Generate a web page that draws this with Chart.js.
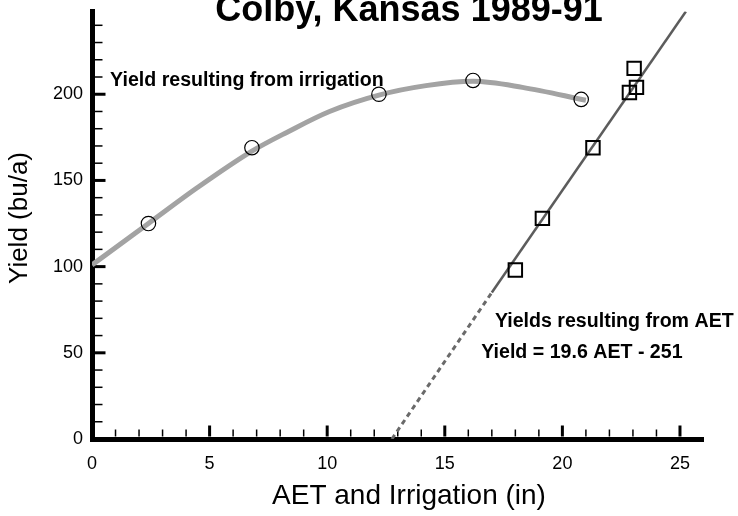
<!DOCTYPE html>
<html>
<head>
<meta charset="utf-8">
<script src="https://cdn.jsdelivr.net/npm/chart.js@4.4.1/dist/chart.umd.min.js"></script>
<style>
  html, body { margin: 0; padding: 0; background: #fff; }
  #wrap { width: 738px; height: 516px; }
</style>
</head>
<body>
<div id="wrap"><canvas id="yieldChart" width="738" height="516"></canvas></div>
<script>
// yields from irrigation (circles) and the curve drawn through them
const irrigX = [2.4, 6.8, 12.2, 16.2, 20.8];
const irrigY = [125, 169, 200, 208, 197];
const curveX = [0, 2.4, 4.5, 6.8, 8.3, 10.1, 12.2, 14.2, 16.2, 18.3, 21.0];
const curveY = [101, 125, 146, 167, 178, 190, 199.5, 205, 207.5, 204, 196.5];

// yields from AET (squares)
const aetX = [18.0, 19.15, 21.3, 22.85, 23.15, 23.05];
const aetY = [98, 128, 169, 201, 204, 215];

// regression line Yield = 19.6 AET - 251 (dashed below the data)
const fitSolidX = [17.0, 25.25];
const fitSolidY = [85, 248];
const fitDashX = [12.75, 17.0];
const fitDashY = [0, 85];

// axis ticks
const xTicks = [0, 5, 10, 15, 20, 25];
const xMinor = [1, 2, 3, 4, 6, 7, 8, 9, 11, 12, 13, 14, 16, 17, 18, 19, 21, 22, 23, 24];
const yTicks = [0, 50, 100, 150, 200];
const yMinor = [10, 20, 30, 40, 60, 70, 80, 90, 110, 120, 130, 140, 160, 170, 180, 190, 210, 220, 230, 240];

const FONT = '"Liberation Sans", Arial, Helvetica, sans-serif';
const pts = (xs, ys) => xs.map((x, i) => ({x: x, y: ys[i]}));

// ticks inside the axes plus the title and the notes
const decor = {
    id: 'decor',
    beforeDatasetsDraw(chart) {
        const ctx = chart.ctx;
        const xs = chart.scales.x, ys = chart.scales.y;
        const area = chart.chartArea;
        ctx.save();
        ctx.strokeStyle = '#000';
        // x axis ticks
        const xEdge = area.bottom - 2.5;
        ctx.lineWidth = 1.5;
        xMinor.forEach(v => {
            const px = xs.getPixelForValue(v);
            ctx.beginPath(); ctx.moveTo(px, xEdge); ctx.lineTo(px, xEdge - 7); ctx.stroke();
        });
        ctx.lineWidth = 3;
        xTicks.forEach(v => {
            if (v === 0) return;
            const px = xs.getPixelForValue(v);
            ctx.beginPath(); ctx.moveTo(px, xEdge); ctx.lineTo(px, xEdge - 11); ctx.stroke();
        });
        // y axis ticks
        const yEdge = area.left + 2.5;
        ctx.lineWidth = 1.5;
        yMinor.forEach(v => {
            const py = ys.getPixelForValue(v);
            ctx.beginPath(); ctx.moveTo(yEdge, py); ctx.lineTo(yEdge + 8, py); ctx.stroke();
        });
        ctx.lineWidth = 3;
        yTicks.forEach(v => {
            if (v === 0) return;
            const py = ys.getPixelForValue(v);
            ctx.beginPath(); ctx.moveTo(yEdge, py); ctx.lineTo(yEdge + 11, py); ctx.stroke();
        });
        ctx.restore();
    },
    afterDraw(chart) {
        const ctx = chart.ctx;
        const xs = chart.scales.x, ys = chart.scales.y;
        ctx.save();
        ctx.fillStyle = '#000';

        // title, partly cut off at the top like the original
        ctx.font = 'bold 36px ' + FONT;
        ctx.textAlign = 'center';
        ctx.textBaseline = 'alphabetic';
        ctx.fillText('Colby, Kansas 1989-91', 409, 21);

        // axis titles
        ctx.font = '28px ' + FONT;
        ctx.textBaseline = 'middle';
        ctx.fillText('AET and Irrigation (in)', 409, 496);
        ctx.font = '26px ' + FONT;
        ctx.save();
        ctx.translate(20, 218);
        ctx.rotate(-Math.PI / 2);
        ctx.fillText('Yield (bu/a)', 0, 0);
        ctx.restore();

        // notes
        ctx.font = 'bold 19.6px ' + FONT;
        ctx.textAlign = 'left';
        ctx.textBaseline = 'alphabetic';
        ctx.fillText('Yield resulting from irrigation', xs.getPixelForValue(0.77), ys.getPixelForValue(205));
        ctx.fillText('Yields resulting from AET', xs.getPixelForValue(17.13), ys.getPixelForValue(65));
        ctx.fillText('Yield = 19.6 AET - 251', xs.getPixelForValue(16.55), ys.getPixelForValue(47.2));
        ctx.restore();
    }
};

const ctx = document.getElementById('yieldChart').getContext('2d');
new Chart(ctx, {
    type: 'scatter',
    data: {
        datasets: [
            {
                label: 'AET yields',
                data: pts(aetX, aetY),
                pointStyle: 'rect',
                pointRadius: 9.5,
                borderColor: '#000',
                backgroundColor: 'rgba(0,0,0,0)',
                borderWidth: 2,
                showLine: false
            },
            {
                label: 'Irrigation yields',
                data: pts(irrigX, irrigY),
                pointStyle: 'circle',
                pointRadius: 7.2,
                borderColor: '#000',
                backgroundColor: 'rgba(0,0,0,0)',
                borderWidth: 1.2,
                showLine: false
            },
            {
                label: 'AET fit',
                data: pts(fitSolidX, fitSolidY),
                showLine: true,
                pointRadius: 0,
                borderColor: '#5c5c5c',
                borderWidth: 2.5
            },
            {
                label: 'AET fit extended',
                data: pts(fitDashX, fitDashY),
                showLine: true,
                pointRadius: 0,
                borderColor: '#6a6a6a',
                borderWidth: 3,
                borderDash: [5, 4]
            },
            {
                label: 'Irrigation curve',
                data: pts(curveX, curveY),
                showLine: true,
                pointRadius: 0,
                borderColor: '#a3a3a3',
                borderWidth: 5,
                cubicInterpolationMode: 'monotone'
            }
        ]
    },
    options: {
        responsive: false,
        animation: false,
        devicePixelRatio: 1,
        layout: {padding: {left: 0, right: 34.5, top: 9.5, bottom: 0}},
        plugins: {
            legend: {display: false},
            tooltip: {enabled: false}
        },
        scales: {
            x: {
                type: 'linear',
                min: 0,
                max: 26,
                afterFit(scale) { scale.height = 77; scale.paddingLeft = 0; scale.paddingRight = 0; },
                afterBuildTicks(scale) { scale.ticks = xTicks.map(v => ({value: v})); },
                grid: {drawOnChartArea: false, drawTicks: false},
                border: {display: true, width: 5, color: '#000'},
                ticks: {padding: 14, color: '#000', autoSkip: false, maxRotation: 0, font: {size: 18, family: FONT}}
            },
            y: {
                type: 'linear',
                min: 0,
                max: 248,
                afterFit(scale) { scale.width = 92; scale.paddingTop = 0; scale.paddingBottom = 0; },
                afterBuildTicks(scale) { scale.ticks = yTicks.map(v => ({value: v})); },
                grid: {drawOnChartArea: false, drawTicks: false},
                border: {display: true, width: 5, color: '#000'},
                ticks: {padding: 9, color: '#000', autoSkip: false, font: {size: 18, family: FONT}}
            }
        }
    },
    plugins: [decor]
});
</script>
</body>
</html>
